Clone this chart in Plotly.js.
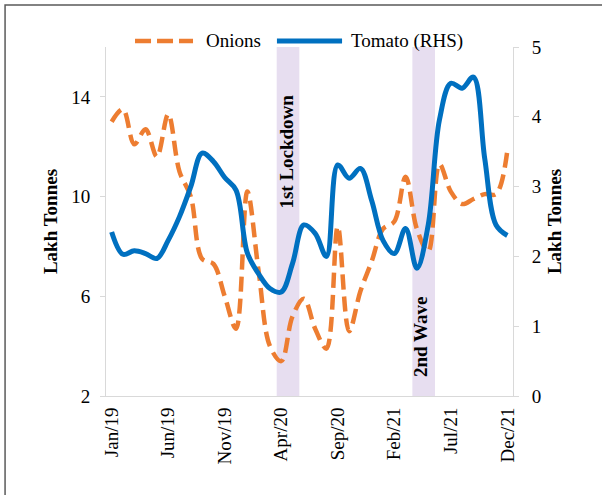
<!DOCTYPE html>
<html>
<head>
<meta charset="utf-8">
<script src="https://cdn.plot.ly/plotly-3.0.1.min.js"></script>
<style>html,body{margin:0;padding:0;background:#fff;}#chart{width:602px;height:495px;}</style>
</head>
<body>
<div id="chart"></div>
<script>
// Monthly categories Jan/19 .. Dec/21
const months = ["Jan/19","Feb/19","Mar/19","Apr/19","May/19","Jun/19","Jul/19","Aug/19","Sep/19","Oct/19","Nov/19","Dec/19",
  "Jan/20","Feb/20","Mar/20","Apr/20","May/20","Jun/20","Jul/20","Aug/20","Sep/20","Oct/20","Nov/20","Dec/20",
  "Jan/21","Feb/21","Mar/21","Apr/21","May/21","Jun/21","Jul/21","Aug/21","Sep/21","Oct/21","Nov/21","Dec/21"];
// Onions (Lakh Tonnes, LHS)
const onions = [13.0,13.5,12.1,12.7,11.6,13.3,11.0,10.0,7.5,7.3,6.0,4.7,
  10.2,7.0,4.0,3.4,5.2,5.9,4.7,3.9,8.8,4.6,6.2,7.4,
  8.7,9.0,10.8,8.7,7.8,11.3,10.2,9.7,9.9,10.1,10.1,11.85];
// Tomato (Lakh Tonnes, RHS)
const tomato = [2.35,2.03,2.08,2.04,1.97,2.23,2.57,3.0,3.48,3.36,3.13,2.95,
  2.05,1.75,1.54,1.49,1.9,2.45,2.33,2.0,3.31,3.12,3.26,2.8,
  2.23,2.04,2.4,1.83,2.45,3.96,4.48,4.41,4.57,3.4,2.45,2.3];
const tickIdx = [0,5,10,15,20,25,30,35];
const tickLabels = tickIdx.map(i => months[i]);
// Shaded periods (category index span) and labels
const periods = [
  {name: "1st Lockdown", from: 14.6, to: 16.6},
  {name: "2nd Wave", from: 26.6, to: 28.6}
];
const seriesNames = ["Onions", "Tomato (RHS)"];
const seriesColors = ["#ED7D31", "#0070C0"];

const idx = months.map((m, i) => i);
const FONT = "Liberation Serif, Times New Roman, serif";

const traces = [
  {x: idx, y: onions, name: seriesNames[0], type: "scatter", mode: "lines", showlegend: false,
   text: months, hovertemplate: "%{text}: %{y}<extra>Onions</extra>",
   line: {color: seriesColors[0], width: 4.5, dash: "15px,7px", shape: "spline", smoothing: 1}},
  {x: idx, y: tomato, name: seriesNames[1], type: "scatter", mode: "lines", yaxis: "y2", showlegend: false,
   text: months, hovertemplate: "%{text}: %{y}<extra>Tomato</extra>",
   line: {color: seriesColors[1], width: 5, shape: "spline", smoothing: 1}}
];

const shapes = periods.map(p => ({
  type: "rect", xref: "x", yref: "paper", x0: p.from, x1: p.to, y0: 0, y1: 1,
  fillcolor: "#E7DEF0", line: {width: 0}, layer: "below"
}));
// outer frame
shapes.push({type: "rect", xref: "paper", yref: "paper",
  x0: -0.248, x1: 1.25, y0: -0.33, y1: 1.1205,
  line: {color: "#5a5a5a", width: 1.5}, fillcolor: "rgba(0,0,0,0)", layer: "above"});
// legend keys
const LEG_Y = 1.0172;
shapes.push({type: "line", xref: "paper", yref: "paper", x0: 0.0713, x1: 0.2138, y0: LEG_Y, y1: LEG_Y,
  line: {color: seriesColors[0], width: 4.5, dash: "16px,6px"}});
shapes.push({type: "line", xref: "paper", yref: "paper", x0: 0.420, x1: 0.580, y0: LEG_Y, y1: LEG_Y,
  line: {color: seriesColors[1], width: 5}});

const annotations = [
  {x: 15.5, y: 0.70, xref: "x", yref: "paper", xanchor: "center", yanchor: "middle",
   text: "<b>" + periods[0].name + "</b>", textangle: -90,
   showarrow: false, font: {family: FONT, size: 19, color: "#000"}},
  {x: 27.3, y: 0.17, xref: "x", yref: "paper", xanchor: "center", yanchor: "middle",
   text: "<b>" + periods[1].name + "</b>", textangle: -90,
   showarrow: false, font: {family: FONT, size: 19, color: "#000"}},
  {x: 0.240, y: LEG_Y, xref: "paper", yref: "paper", xanchor: "left", yanchor: "middle",
   text: seriesNames[0], showarrow: false, font: {family: FONT, size: 19, color: "#000"}},
  {x: 0.596, y: LEG_Y, xref: "paper", yref: "paper", xanchor: "left", yanchor: "middle",
   text: seriesNames[1], showarrow: false, font: {family: FONT, size: 19, color: "#000"}}
];

const layout = {
  width: 602, height: 495,
  margin: {l: 106, r: 89, t: 47, b: 99, pad: 0},
  paper_bgcolor: "#fff", plot_bgcolor: "#fff",
  font: {family: FONT, size: 19, color: "#000"},
  showlegend: false,
  xaxis: {range: [-0.5, 35.5], tickmode: "array", tickvals: tickIdx, ticktext: tickLabels,
    tickangle: -90, showgrid: false, zeroline: false, showline: true, linecolor: "#d9d9d9", linewidth: 1,
    ticks: "", ticklabelstandoff: 3, tickfont: {family: FONT, size: 19}},
  yaxis: {range: [2, 16], tickmode: "linear", tick0: 2, dtick: 4, showgrid: false, zeroline: false,
    showline: true, linecolor: "#d9d9d9", linewidth: 1, ticks: "outside", ticklen: 5, tickcolor: "#d9d9d9",
    ticklabelstandoff: 6,
    title: {text: "<b>Lakh Tonnes</b>", standoff: 8, font: {family: FONT, size: 19}}},
  yaxis2: {range: [0, 5], tickmode: "linear", tick0: 0, dtick: 1, overlaying: "y", side: "right",
    showgrid: false, zeroline: false, showline: true, linecolor: "#d9d9d9", linewidth: 1,
    ticks: "outside", ticklen: 5, tickcolor: "#d9d9d9", ticklabelstandoff: 9,
    title: {text: "<b>Lakh Tonnes</b>", standoff: 6, font: {family: FONT, size: 19}}},
  shapes: shapes,
  annotations: annotations
};

Plotly.newPlot("chart", traces, layout, {displayModeBar: false, staticPlot: true});
</script>
</body>
</html>
